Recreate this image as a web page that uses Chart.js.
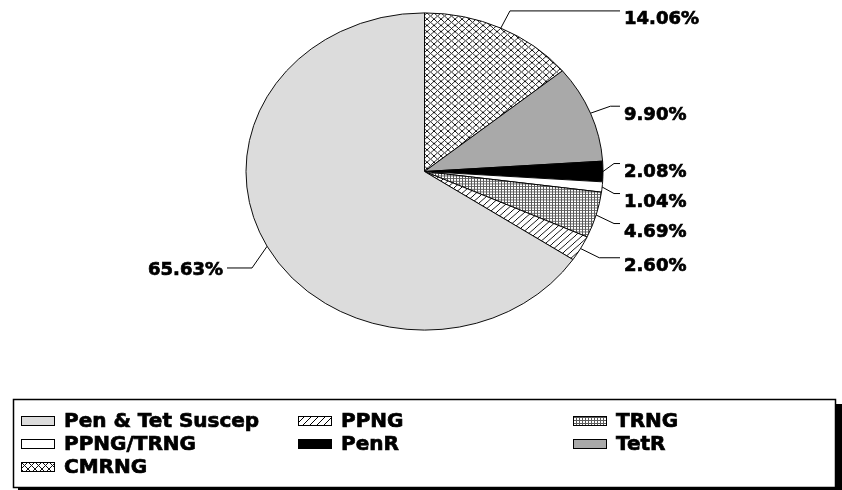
<!DOCTYPE html>
<html>
<head>
<meta charset="utf-8">
<script src="https://cdn.jsdelivr.net/npm/chart.js@4.4.1/dist/chart.umd.min.js"></script>
<style>
  html, body { margin: 0; padding: 0; background: #fff; }
  #wrap { width: 842px; height: 490px; }
</style>
</head>
<body>
<div id="wrap"><canvas id="pie" width="842" height="490"></canvas></div>
<script>
// legend order
const categories = ['Pen & Tet Suscep', 'PPNG', 'TRNG', 'PPNG/TRNG', 'PenR', 'TetR', 'CMRNG'];
const shares = [65.63, 2.60, 4.69, 1.04, 2.08, 9.90, 14.06];

// pie is drawn as an ellipse
const squash = 158.6 / 178.5;
const pieCenterY = 171.5;

function tile(size, draw) {
  const c = document.createElement('canvas');
  c.width = size; c.height = size;
  const t = c.getContext('2d');
  t.fillStyle = '#fff';
  t.fillRect(0, 0, size, size);
  draw(t, size);
  return document.createElement('canvas').getContext('2d').createPattern(c, 'repeat');
}

const hatch = tile(7, (t, s) => {
  t.strokeStyle = '#000'; t.lineWidth = 1;
  t.beginPath();
  t.moveTo(0, s); t.lineTo(s, 0);
  t.moveTo(-1, 1); t.lineTo(1, -1);
  t.moveTo(s - 1, s + 1); t.lineTo(s + 1, s - 1);
  t.stroke();
});
const grid = tile(3, (t, s) => {
  t.fillStyle = '#5a5a5a';
  t.fillRect(0, 0, s, 1);
  t.fillRect(0, 0, 1, s);
});
const cross = tile(7, (t, s) => {
  t.strokeStyle = '#111'; t.lineWidth = 1;
  t.beginPath();
  t.moveTo(0, 0); t.lineTo(s, s);
  t.moveTo(0, s); t.lineTo(s, 0);
  t.stroke();
});

const fills = ['#dcdcdc', hatch, grid, '#ffffff', '#000000', '#a9a9a9', cross];

// pie runs clockwise from the top in reverse legend order
const pieLabels = categories.slice().reverse();
const pieValues = shares.slice().reverse();
const pieFills = fills.slice().reverse();

const ellipsePlugin = {
  id: 'ellipse',
  beforeDatasetsDraw(chart) {
    const arc = chart.getDatasetMeta(0).data[0];
    const ctx = chart.ctx;
    ctx.save();
    ctx.translate(arc.x, pieCenterY);
    ctx.scale(1, squash);
    ctx.translate(-arc.x, -arc.y);
  },
  afterDatasetsDraw(chart) {
    chart.ctx.restore();
  }
};

function spread(list, gap) {
  list.sort((a, b) => a.ky - b.ky);
  const groups = list.map(it => ({ items: [it], mean: it.ky }));
  let merged = true;
  while (merged) {
    merged = false;
    for (let g = 0; g < groups.length - 1; g++) {
      const A = groups[g], B = groups[g + 1];
      const aBottom = A.mean + (A.items.length - 1) * gap / 2;
      const bTop = B.mean - (B.items.length - 1) * gap / 2;
      if (bTop - aBottom < gap) {
        const items = A.items.concat(B.items);
        const mean = items.reduce((s, it) => s + it.ky, 0) / items.length;
        groups.splice(g, 2, { items, mean });
        merged = true;
        break;
      }
    }
  }
  groups.forEach(G => G.items.forEach((it, j) => {
    it.ly = G.mean + (j - (G.items.length - 1) / 2) * gap;
  }));
}

function heavyText(ctx, txt, x, y) {
  ctx.fillText(txt, x, y);
  ctx.strokeText(txt, x, y);
}

const labelPlugin = {
  id: 'pieLabels',
  afterDraw(chart) {
    const ctx = chart.ctx;
    const meta = chart.getDatasetMeta(0);
    const items = meta.data.map((arc, i) => {
      const a = (arc.startAngle + arc.endAngle) / 2;
      const R = arc.outerRadius;
      const right = Math.cos(a) >= 0;
      const ky = right ? 1.12 : 1.29;
      return {
        i, right,
        ex: arc.x + R * Math.cos(a),
        ey: pieCenterY + R * squash * Math.sin(a),
        kx: arc.x + R * 1.12 * Math.cos(a),
        ky: pieCenterY + R * ky * squash * Math.sin(a)
      };
    });
    spread(items.filter(it => it.right), 30);
    spread(items.filter(it => !it.right), 30);

    ctx.save();
    ctx.strokeStyle = '#000';
    ctx.fillStyle = '#000';
    ctx.font = 'bold 18px "DejaVu Sans"';
    items.forEach(it => {
      const txt = pieValues[it.i].toFixed(2) + '%';
      ctx.lineWidth = 1;
      ctx.beginPath();
      ctx.moveTo(it.ex, it.ey);
      if (it.right) {
        ctx.lineTo(Math.min(it.kx, 614), it.ly);
        ctx.lineTo(620, it.ly);
        ctx.stroke();
        ctx.lineWidth = 0.7;
        ctx.textAlign = 'left';
        ctx.textBaseline = 'alphabetic';
        heavyText(ctx, txt, 624, it.ly + 13.5);
      } else {
        ctx.lineTo(Math.max(it.kx, 252), it.ly);
        ctx.lineTo(227, it.ly);
        ctx.stroke();
        ctx.lineWidth = 0.7;
        ctx.textAlign = 'right';
        ctx.textBaseline = 'middle';
        heavyText(ctx, txt, 223, it.ly + 2);
      }
    });
    ctx.restore();
  }
};

const legendPlugin = {
  id: 'boxLegend',
  afterDraw(chart) {
    const ctx = chart.ctx;
    ctx.save();
    ctx.fillStyle = '#000';
    ctx.fillRect(18, 404, 824, 90);
    ctx.fillStyle = '#fff';
    ctx.fillRect(13, 399, 823, 89);
    ctx.strokeStyle = '#000';
    ctx.lineWidth = 1.5;
    ctx.strokeRect(13.5, 399.5, 822, 88);

    const colX = [21, 298, 573];
    const rowY = [421, 444, 467];
    ctx.font = 'bold 20px "DejaVu Sans"';
    ctx.textBaseline = 'middle';
    ctx.textAlign = 'left';
    categories.forEach((name, i) => {
      const x = colX[i % 3], y = rowY[Math.floor(i / 3)];
      ctx.fillStyle = fills[i];
      ctx.fillRect(x, y - 5, 34, 10);
      ctx.lineWidth = 1;
      ctx.strokeRect(x + 0.5, y - 4.5, 33, 9);
      ctx.fillStyle = '#000';
      ctx.lineWidth = 0.7;
      heavyText(ctx, name, x + 43, y + 1);
    });
    ctx.restore();
  }
};

new Chart(document.getElementById('pie'), {
  type: 'pie',
  data: {
    labels: pieLabels,
    datasets: [{
      data: pieValues,
      backgroundColor: pieFills,
      borderColor: '#000',
      borderWidth: 1
    }]
  },
  options: {
    responsive: false,
    animation: false,
    events: [],
    radius: 178.5,
    layout: { padding: { left: 246, right: 239, top: 0, bottom: 133 } },
    plugins: {
      legend: { display: false },
      tooltip: { enabled: false }
    }
  },
  plugins: [ellipsePlugin, labelPlugin, legendPlugin]
});
</script>
</body>
</html>
